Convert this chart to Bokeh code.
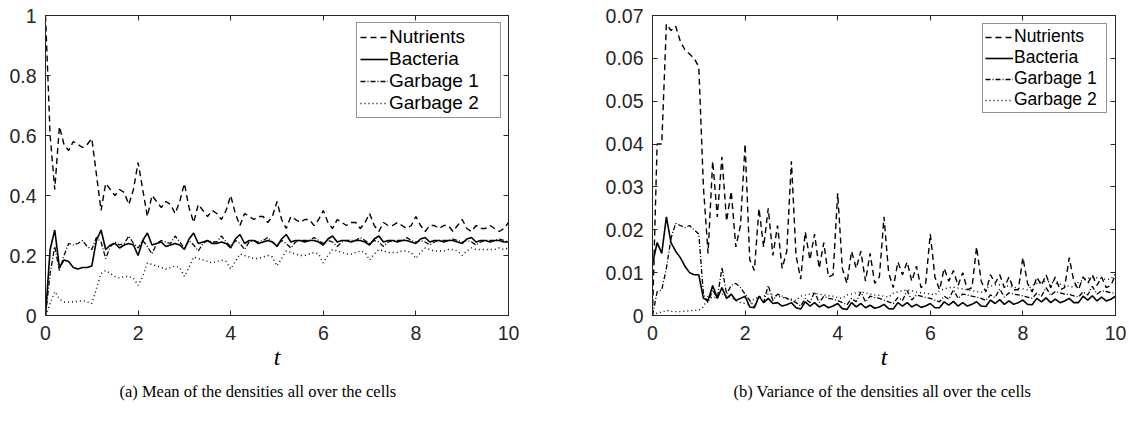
from bokeh.plotting import figure
from bokeh.layouts import row
from bokeh.models import (Legend, LegendItem, LinearAxis, Title, FixedTicker,
                          CustomJSTickFormatter, Range1d)
from bokeh.embed import file_html
from bokeh.resources import INLINE

# ---------------- data ----------------
t = [i / 10 for i in range(101)]

x_ticks = [0, 2, 4, 6, 8, 10]
x_tick_labels = ["0", "2", "4", "6", "8", "10"]

mean_y_ticks = [0, 0.2, 0.4, 0.6, 0.8, 1.0]
mean_y_labels = ["0", "0.2", "0.4", "0.6", "0.8", "1"]
var_y_ticks = [0, 0.01, 0.02, 0.03, 0.04, 0.05, 0.06, 0.07]
var_y_labels = ["0", "0.01", "0.02", "0.03", "0.04", "0.05", "0.06", "0.07"]

series_names = ["Nutrients", "Bacteria", "Garbage 1", "Garbage 2"]
captions = ["(a) Mean of the densities all over the cells",
            "(b) Variance of the densities all over the cells"]
x_label = "t"

nutrients_mean = [
    1.00, 0.60, 0.42, 0.63, 0.57, 0.55, 0.58, 0.57, 0.56, 0.57,
    0.59, 0.47, 0.35, 0.44, 0.42, 0.40, 0.42, 0.41, 0.37, 0.42,
    0.51, 0.42, 0.33, 0.40, 0.38, 0.36, 0.38, 0.37, 0.34, 0.38,
    0.44, 0.36, 0.31, 0.37, 0.35, 0.33, 0.35, 0.34, 0.32, 0.35,
    0.40, 0.34, 0.30, 0.34, 0.33, 0.32, 0.33, 0.33, 0.31, 0.33,
    0.38, 0.32, 0.29, 0.33, 0.32, 0.31, 0.32, 0.32, 0.30, 0.32,
    0.35, 0.31, 0.29, 0.32, 0.31, 0.30, 0.31, 0.31, 0.29, 0.31,
    0.34, 0.30, 0.28, 0.31, 0.30, 0.30, 0.31, 0.30, 0.29, 0.30,
    0.33, 0.30, 0.28, 0.30, 0.30, 0.29, 0.30, 0.30, 0.28, 0.30,
    0.32, 0.29, 0.28, 0.30, 0.29, 0.29, 0.30, 0.29, 0.28, 0.29,
    0.31]
bacteria_mean = [
    0.00, 0.22, 0.285, 0.16, 0.185, 0.18, 0.16, 0.155, 0.16, 0.16,
    0.165, 0.25, 0.285, 0.22, 0.235, 0.24, 0.225, 0.235, 0.24, 0.235,
    0.20, 0.25, 0.275, 0.235, 0.24, 0.245, 0.23, 0.235, 0.24, 0.235,
    0.22, 0.255, 0.275, 0.24, 0.245, 0.25, 0.24, 0.24, 0.245, 0.24,
    0.225, 0.255, 0.27, 0.24, 0.25, 0.25, 0.24, 0.245, 0.25, 0.245,
    0.23, 0.255, 0.27, 0.245, 0.25, 0.25, 0.245, 0.25, 0.25, 0.245,
    0.235, 0.255, 0.265, 0.245, 0.25, 0.25, 0.245, 0.25, 0.25, 0.245,
    0.235, 0.255, 0.265, 0.245, 0.25, 0.25, 0.245, 0.25, 0.25, 0.245,
    0.24, 0.255, 0.26, 0.245, 0.25, 0.25, 0.245, 0.25, 0.25, 0.245,
    0.24, 0.255, 0.26, 0.245, 0.25, 0.25, 0.245, 0.25, 0.25, 0.245,
    0.245]
garbage1_mean = [
    0.00, 0.14, 0.23, 0.15, 0.20, 0.24, 0.235, 0.24, 0.25, 0.23,
    0.22, 0.26, 0.245, 0.19, 0.23, 0.245, 0.235, 0.24, 0.265, 0.24,
    0.225, 0.25, 0.23, 0.205, 0.24, 0.25, 0.245, 0.24, 0.265, 0.245,
    0.225, 0.25, 0.235, 0.215, 0.24, 0.25, 0.245, 0.245, 0.265, 0.245,
    0.23, 0.25, 0.24, 0.22, 0.245, 0.25, 0.245, 0.25, 0.26, 0.245,
    0.235, 0.25, 0.24, 0.225, 0.245, 0.25, 0.25, 0.25, 0.26, 0.25,
    0.24, 0.25, 0.245, 0.23, 0.245, 0.25, 0.25, 0.25, 0.26, 0.25,
    0.24, 0.25, 0.245, 0.23, 0.245, 0.25, 0.25, 0.25, 0.26, 0.25,
    0.245, 0.25, 0.245, 0.235, 0.245, 0.25, 0.25, 0.25, 0.255, 0.25,
    0.245, 0.25, 0.245, 0.235, 0.245, 0.25, 0.25, 0.25, 0.255, 0.25,
    0.245]
garbage2_mean = [
    0.00, 0.04, 0.08, 0.055, 0.045, 0.045, 0.045, 0.047, 0.05, 0.045,
    0.04, 0.09, 0.14, 0.15, 0.14, 0.13, 0.125, 0.13, 0.13, 0.125,
    0.10, 0.13, 0.175, 0.17, 0.165, 0.16, 0.155, 0.16, 0.165, 0.16,
    0.13, 0.16, 0.195, 0.19, 0.185, 0.18, 0.175, 0.18, 0.185, 0.18,
    0.155, 0.18, 0.205, 0.20, 0.195, 0.19, 0.19, 0.195, 0.20, 0.195,
    0.165, 0.19, 0.215, 0.21, 0.205, 0.20, 0.20, 0.205, 0.21, 0.205,
    0.175, 0.20, 0.22, 0.215, 0.21, 0.205, 0.205, 0.21, 0.215, 0.21,
    0.185, 0.205, 0.22, 0.215, 0.21, 0.21, 0.21, 0.215, 0.215, 0.21,
    0.19, 0.21, 0.225, 0.22, 0.215, 0.215, 0.215, 0.22, 0.22, 0.215,
    0.20, 0.215, 0.225, 0.22, 0.22, 0.22, 0.22, 0.22, 0.225, 0.22,
    0.225]

nutrients_var = [
    0.000, 0.040, 0.040, 0.068, 0.0665, 0.0675, 0.064, 0.062, 0.061, 0.060,
    0.058, 0.030, 0.0145, 0.036, 0.023, 0.037, 0.022, 0.029, 0.016, 0.021,
    0.040, 0.013, 0.0105, 0.025, 0.016, 0.025, 0.014, 0.021, 0.011, 0.015,
    0.036, 0.014, 0.0085, 0.0195, 0.013, 0.019, 0.011, 0.017, 0.009, 0.0095,
    0.0285, 0.011, 0.0075, 0.015, 0.011, 0.015, 0.008, 0.0145, 0.0075, 0.009,
    0.023, 0.010, 0.0065, 0.0125, 0.0095, 0.0125, 0.008, 0.0115, 0.0065, 0.0075,
    0.019, 0.009, 0.006, 0.011, 0.008, 0.0105, 0.007, 0.010, 0.006, 0.0065,
    0.016, 0.008, 0.0055, 0.0095, 0.0075, 0.0095, 0.0065, 0.009, 0.006, 0.006,
    0.0135, 0.0075, 0.0055, 0.009, 0.007, 0.0095, 0.0065, 0.009, 0.006, 0.0065,
    0.0135, 0.008, 0.006, 0.009, 0.0075, 0.0095, 0.007, 0.009, 0.0065, 0.007,
    0.0095]
bacteria_var = [
    0.012, 0.017, 0.0145, 0.023, 0.017, 0.015, 0.0135, 0.0115, 0.0100, 0.0095,
    0.0095, 0.004, 0.0035, 0.007, 0.004, 0.0065, 0.004, 0.005, 0.0035, 0.004,
    0.0045, 0.002, 0.0018, 0.0045, 0.003, 0.004, 0.0028, 0.003, 0.0022, 0.0025,
    0.003, 0.0018, 0.0015, 0.0032, 0.0022, 0.003, 0.002, 0.0025, 0.0018, 0.0022,
    0.0028, 0.0016, 0.0014, 0.003, 0.002, 0.0028, 0.0018, 0.0024, 0.0017, 0.002,
    0.0026, 0.0016, 0.0015, 0.003, 0.0022, 0.003, 0.002, 0.0026, 0.0019, 0.0022,
    0.0028, 0.0018, 0.0018, 0.0032, 0.0024, 0.0033, 0.0022, 0.003, 0.0022, 0.0026,
    0.0032, 0.0022, 0.0021, 0.0036, 0.0028, 0.0037, 0.0026, 0.0034, 0.0026, 0.003,
    0.0036, 0.0026, 0.0025, 0.004, 0.0032, 0.0041, 0.003, 0.0038, 0.003, 0.0034,
    0.004, 0.003, 0.003, 0.0045, 0.0036, 0.0046, 0.0034, 0.0043, 0.0034, 0.0038,
    0.0045]
garbage1_var = [
    0.000, 0.0055, 0.006, 0.011, 0.018, 0.0215, 0.021, 0.0205, 0.021, 0.020,
    0.019, 0.005, 0.003, 0.006, 0.004, 0.0112, 0.005, 0.007, 0.0075, 0.0065,
    0.005, 0.0035, 0.002, 0.0045, 0.003, 0.007, 0.0035, 0.005, 0.0045, 0.004,
    0.0035, 0.003, 0.0022, 0.004, 0.003, 0.0055, 0.003, 0.0045, 0.004, 0.0038,
    0.0035, 0.003, 0.0025, 0.004, 0.0032, 0.0055, 0.0032, 0.0045, 0.0042, 0.004,
    0.0036, 0.0032, 0.0028, 0.0042, 0.0035, 0.0058, 0.0036, 0.0048, 0.0045, 0.0042,
    0.004, 0.0036, 0.0032, 0.0045, 0.0038, 0.006, 0.004, 0.005, 0.0048, 0.0045,
    0.0043, 0.004, 0.0035, 0.0048, 0.0042, 0.0062, 0.0043, 0.0053, 0.005, 0.0048,
    0.0046, 0.0043, 0.004, 0.0052, 0.0045, 0.0065, 0.0047, 0.0056, 0.0053, 0.005,
    0.0049, 0.0046, 0.0043, 0.0055, 0.0048, 0.0068, 0.005, 0.0058, 0.0056, 0.0053,
    0.0052]
garbage2_var = [
    0.000, 0.0006, 0.0008, 0.0012, 0.001, 0.0009, 0.0009, 0.001, 0.0011, 0.0012,
    0.0012, 0.002, 0.0045, 0.004, 0.0045, 0.005, 0.0045, 0.0042, 0.0035, 0.003,
    0.0028, 0.0025, 0.004, 0.0042, 0.0045, 0.005, 0.0048, 0.0045, 0.0042, 0.004,
    0.0038, 0.0035, 0.0045, 0.0048, 0.005, 0.0052, 0.005, 0.0048, 0.0046, 0.0045,
    0.0042, 0.004, 0.0048, 0.005, 0.0053, 0.0055, 0.0053, 0.005, 0.0048, 0.0047,
    0.0045, 0.0043, 0.0052, 0.0055, 0.0058, 0.006, 0.0058, 0.0055, 0.0053, 0.0052,
    0.005, 0.0048, 0.0058, 0.0062, 0.0065, 0.0066, 0.0064, 0.0062, 0.006, 0.0058,
    0.0056, 0.0054, 0.0064, 0.0068, 0.0071, 0.0072, 0.007, 0.0068, 0.0066, 0.0064,
    0.0062, 0.006, 0.007, 0.0075, 0.0078, 0.008, 0.0078, 0.0075, 0.0073, 0.0071,
    0.0068, 0.0066, 0.0078, 0.0083, 0.0087, 0.0089, 0.0088, 0.0086, 0.0084, 0.0085,
    0.0097]

# ---------------- styling ----------------
AX = "#262626"
SANS = "Liberation Sans"
SERIF = "Liberation Serif"
dashes = ["6 4", "solid", "5 2 1 2", "1 3"]
widths = [1.4, 1.6, 1.3, 1.4]


def make_panel(width, mb_left, mb_right, ymax, yticks, ylabels, data, caption,
               leg_font, leg_row, leg_label_w, leg_margin, leg_pad, leg_spacing,
               cap_offset):
    p = figure(width=width, height=421, output_backend="svg", toolbar_location=None,
               x_range=Range1d(0, 10), y_range=Range1d(0, ymax),
               min_border_left=mb_left, min_border_right=mb_right,
               min_border_top=15, min_border_bottom=106)
    p.grid.visible = False
    p.outline_line_color = AX
    p.outline_line_width = 1
    p.background_fill_color = "white"
    p.border_fill_color = "white"

    for ax, ticks, labels in ((p.xaxis[0], x_ticks, x_tick_labels),
                              (p.yaxis[0], yticks, ylabels)):
        ax.ticker = FixedTicker(ticks=ticks)
        ax.major_label_overrides = {tk: lb for tk, lb in zip(ticks, labels)}
        ax.major_tick_in = 5
        ax.major_tick_out = 0
        ax.minor_tick_line_color = None
        ax.axis_line_color = AX
        ax.major_tick_line_color = AX
        ax.major_label_text_font = SANS
        ax.major_label_text_font_size = "19.5px"
        ax.major_label_text_color = AX
    p.xaxis.major_label_standoff = 10
    p.yaxis.major_label_standoff = 9
    p.xaxis.axis_label = x_label
    p.xaxis.axis_label_text_font = SERIF
    p.xaxis.axis_label_text_font_style = "italic"
    p.xaxis.axis_label_text_font_size = "24px"
    p.xaxis.axis_label_text_color = "black"
    p.xaxis.axis_label_standoff = 1

    # mirrored ticks on top and right (box on)
    for side, ticks in (("above", x_ticks), ("right", yticks)):
        ax = LinearAxis(ticker=FixedTicker(ticks=ticks),
                        formatter=CustomJSTickFormatter(code="return ''"),
                        major_tick_in=5, major_tick_out=0, major_label_standoff=0,
                        major_label_text_font_size="1px",
                        minor_tick_line_color=None, axis_line_color=AX,
                        major_tick_line_color=AX)
        p.add_layout(ax, side)

    items = []
    for name, ys, dash, lw in zip(series_names, data, dashes, widths):
        r = p.line(t, ys, line_color="black", line_width=lw, line_dash=dash)
        items.append(LegendItem(label=name, renderers=[r]))
    leg = Legend(items=items, location="top_right", margin=leg_margin, padding=leg_pad,
                 spacing=leg_spacing, glyph_width=28, glyph_height=leg_row,
                 label_height=leg_row, label_width=leg_label_w, label_standoff=1,
                 label_text_font=SANS, label_text_font_size=leg_font,
                 label_text_color="black", border_line_color=AX, border_line_width=1,
                 background_fill_color="white", background_fill_alpha=1.0)
    p.add_layout(leg)

    p.add_layout(Title(text=caption, align="left", offset=cap_offset,
                       text_font=SERIF, text_font_size="16.5px",
                       text_font_style="normal", text_color="black", standoff=15),
                 "below")
    return p


p1 = make_panel(600, 45, 92, 1.0, mean_y_ticks, mean_y_labels,
                [nutrients_mean, bacteria_mean, garbage1_mean, garbage2_mean],
                captions[0], "19px", 22, 108, 7, 3, 0, 74)
p2 = make_panel(529, 52, 14, 0.07, var_y_ticks, var_y_labels,
                [nutrients_var, bacteria_var, garbage1_var, garbage2_var],
                captions[1], "17.5px", 20, 90, 8, 2, -1, 81)

layout = row(p1, p2)
open("out.html", "w").write(file_html(layout, INLINE))
